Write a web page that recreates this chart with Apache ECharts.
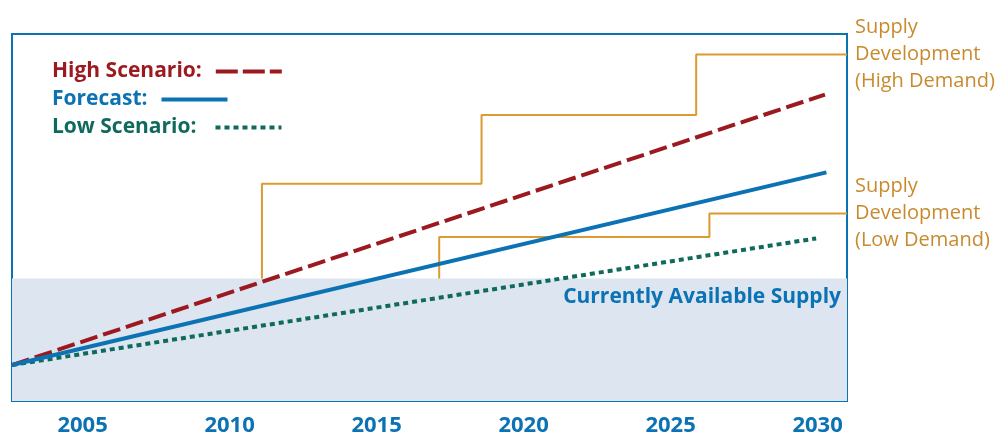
<!DOCTYPE html>
<html>
<head>
<meta charset="utf-8">
<script src="https://cdn.jsdelivr.net/npm/echarts@6/dist/echarts.min.js"></script>
<style>
html,body{margin:0;padding:0;background:#fff;}
#chart{width:998px;height:437px;}
</style>
</head>
<body>
<div id="chart"></div>
<script>
// ---- data (x = year, y = relative supply/demand units) ----
const xTickYears = [2005, 2010, 2015, 2020, 2025, 2030];
const highScenario = [[2002.6, 9.8], [2030.25, 83.5]];
const forecast = [[2002.6, 9.8], [2030.3, 62.3]];
const lowScenario = [[2002.6, 9.8], [2029.95, 44.3]];
const currentSupply = 33.4;
const supplyHighDemand = [[2011.1, 33.4], [2018.57, 59.2], [2025.87, 77.9], [2031, 94.4]];
const supplyLowDemand = [[2017.13, 33.4], [2026.32, 44.7], [2031, 51.1]];
const xRange = [2002.6, 2031];
const legendNames = ['High Scenario:', 'Forecast:', 'Low Scenario:'];

const BLUE = '#0b72b4', RED = '#9c1a1f', TEAL = '#0f6a5d', ORANGE = '#c98a2e', ORANGE_LINE = '#dc9a30';
const FONT = 'Open Sans';
const legendColors = [RED, BLUE, TEAL];
const legendGaps = [9, 9, 14];
const legendDash = [[22, 5], 'solid', [5, 4]];

const chart = echarts.init(document.getElementById('chart'));
const legends = legendNames.map((name, i) => ({
  left: 52, top: 61 + i * 28, orient: 'horizontal', align: 'right', selectedMode: false,
  itemWidth: 66, itemHeight: 14, padding: 0,
  itemStyle: { opacity: 0 },
  lineStyle: { width: 4, type: legendDash[i] },
  textStyle: { fontFamily: FONT, fontWeight: 'bold', fontSize: 21, color: legendColors[i], padding: [0, legendGaps[i], 0, 0] },
  data: [{ name: name }]
}));
const option = {
  animation: false,
  textStyle: { fontFamily: FONT },
  grid: { left: 12, right: 151, top: 34, bottom: 34, show: true, borderColor: BLUE, borderWidth: 2, backgroundColor: 'transparent' },
  legend: legends,
  xAxis: {
    type: 'value', min: xRange[0], max: xRange[1],
    axisLine: { show: false }, axisTick: { show: false }, splitLine: { show: false },
    axisLabel: {
      customValues: xTickYears, margin: 14, color: BLUE, fontWeight: 'bold', fontSize: 22, fontFamily: FONT,
      formatter: v => String(Math.round(v))
    }
  },
  yAxis: { type: 'value', min: 0, max: 100, show: false, splitLine: { show: false } },
  series: [
    {
      name: 'supplyArea', type: 'line', data: [], silent: true,
      markArea: {
        silent: true,
        itemStyle: { color: '#dce5f0' },
        label: {
          show: true, position: 'insideTopRight', distance: 0, offset: [-6, 8],
          formatter: 'Currently Available Supply', color: BLUE, fontWeight: 'bold', fontSize: 21, fontFamily: FONT
        },
        data: [[{ coord: [xRange[0], 0] }, { coord: [xRange[1], currentSupply] }]]
      },
      z: 1
    },
    {
      name: 'Supply Development (High Demand)', type: 'line', step: 'start', data: supplyHighDemand,
      symbol: 'none', lineStyle: { color: ORANGE_LINE, width: 2 }, z: 2, silent: true,
      endLabel: {
        show: true, distance: 8, formatter: 'Supply\nDevelopment\n(High Demand)',
        color: ORANGE, fontSize: 20, lineHeight: 27, fontFamily: FONT, align: 'left', verticalAlign: 'middle'
      }
    },
    {
      name: 'Supply Development (Low Demand)', type: 'line', step: 'start', data: supplyLowDemand,
      symbol: 'none', lineStyle: { color: ORANGE_LINE, width: 2 }, z: 2, silent: true,
      endLabel: {
        show: true, distance: 8, formatter: 'Supply\nDevelopment\n(Low Demand)',
        color: ORANGE, fontSize: 20, lineHeight: 27, fontFamily: FONT, align: 'left', verticalAlign: 'middle'
      }
    },
    {
      name: 'High Scenario:', type: 'line', data: highScenario, symbol: 'none', z: 5,
      itemStyle: { color: RED },
      lineStyle: { color: RED, width: 4, type: [18, 6] }
    },
    {
      name: 'Forecast:', type: 'line', data: forecast, symbol: 'none', z: 5,
      itemStyle: { color: BLUE },
      lineStyle: { color: BLUE, width: 4 }
    },
    {
      name: 'Low Scenario:', type: 'line', data: lowScenario, symbol: 'none', z: 4,
      itemStyle: { color: TEAL },
      lineStyle: { color: TEAL, width: 4, type: [5, 4] }
    }
  ]
};
chart.setOption(option);
</script>
</body>
</html>
